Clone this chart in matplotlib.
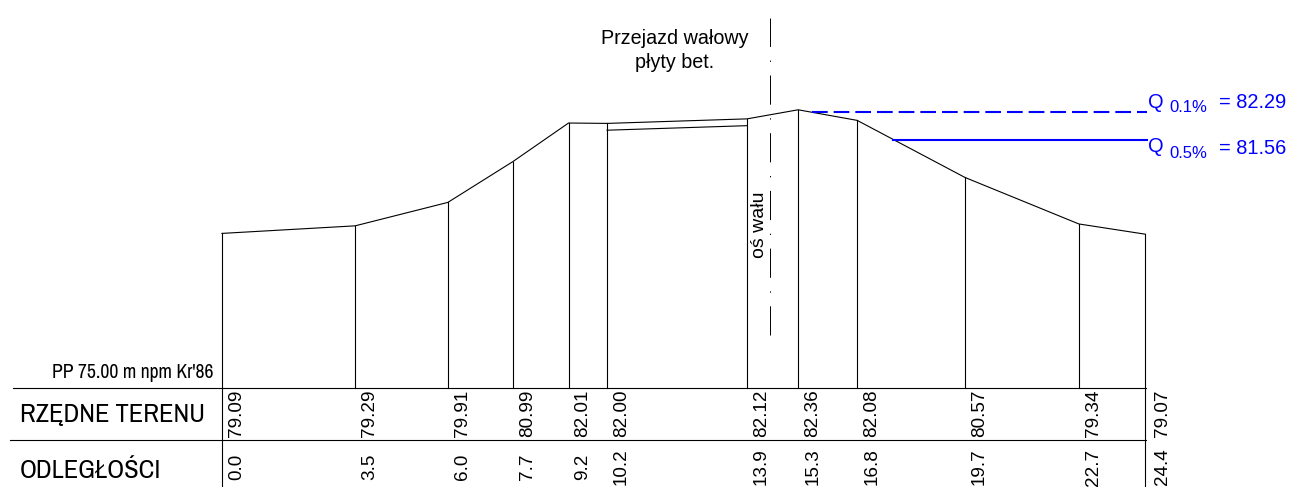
import matplotlib
matplotlib.use("Agg")
import matplotlib.pyplot as plt

plt.rcParams['font.family'] = ['Liberation Sans', 'DejaVu Sans']
plt.rcParams['lines.scale_dashes'] = False

# chainage of each surveyed point (m) and printed labels
stations = [0.0, 3.52, 5.97, 7.69, 9.16, 10.18, 13.88, 15.23, 16.79, 19.64, 22.65, 24.40]
elevations = [79.09, 79.29, 79.91, 80.99, 82.01, 82.00, 82.12, 82.36, 82.08, 80.57, 79.34, 79.07]
elev_labels = ["79.09", "79.29", "79.91", "80.99", "82.01", "82.00", "82.12", "82.36", "82.08", "80.57", "79.34", "79.07"]
dist_labels = ["0.0", "3.5", "6.0", "7.7", "9.2", "10.2", "13.9", "15.3", "16.8", "19.7", "22.7", "24.4"]
plate_underside = [81.82, 81.94]
plate_stations = [10.18, 13.88]
q01 = 82.29
q05 = 81.56
q01_start = 15.60
q05_start = 17.74
line_end = 24.44
axis_station = 14.49
datum = 75.0

W, H = 1294, 487
PX_X = 37.83
PX_Y = 37.8
X0, Y0 = 222.0, 388.0

fig = plt.figure(figsize=(W / 100, H / 100), dpi=100, facecolor='white')

ax = fig.add_axes([0, 0, 1, 1])
ax.set_xlim(-X0 / PX_X, (W - X0) / PX_X)
ax.set_ylim(datum - (H - Y0) / PX_Y, datum + Y0 / PX_Y)
ax.axis('off')

px = fig.add_axes([0, 0, 1, 1])
px.set_xlim(0, W)
px.set_ylim(H, 0)
px.axis('off')
px.patch.set_alpha(0)

LW = 0.8
BLUE = '#0000ff'
INK = '#000000'

# terrain profile and verticals
ax.plot(stations, elevations, color='black', lw=LW)
for i, (s, e) in enumerate(zip(stations, elevations)):
    bottom = ax.get_ylim()[0] if i in (0, len(stations) - 1) else datum
    ax.plot([s, s], [bottom, e], color='black', lw=LW)

# plate underside
ax.plot(plate_stations, plate_underside, color='black', lw=LW)

# water levels
ax.plot([q01_start, line_end], [q01, q01], color=BLUE, lw=1.5, dashes=(11.3, 4.3))
ax.plot([q05_start, line_end], [q05, q05], color=BLUE, lw=1.5)

# embankment axis
ax.plot([axis_station, axis_station], [datum + (388 - 335) / PX_Y, datum + (388 - 18) / PX_Y],
        color='black', lw=0.7, dashes=(21.0, 9.8, 0.95, 9.8))

# table rules
px.plot([13, 1146], [388, 388], color='black', lw=LW)
px.plot([10, 1146], [440, 440], color='black', lw=LW)

# table text
narrow = ['Archivo Narrow', 'Liberation Sans']
px.text(20, 415, "RZĘDNE TERENU", fontsize=19.1, family=narrow, va='center', ha='left', color=INK)
px.text(20, 471, "ODLEGŁOŚCI", fontsize=19.1, family=narrow, va='center', ha='left', color=INK)
px.text(214, 373, "PP 75.00 m npm Kr'86", fontsize=14.2, family=narrow, va='center', ha='right', color=INK)

for i, (s, a, b) in enumerate(zip(stations, elev_labels, dist_labels)):
    xp = X0 + s * PX_X + (14.5 if i < len(stations) - 1 else 17.5)
    px.text(xp, 437, a, rotation=90, fontsize=13.6, ha='center', va='bottom', color=INK)
    px.text(xp, 467, b, rotation=90, fontsize=13.6, ha='center', va='center', color=INK)

# annotations
px.text(675, 39, "Przejazd wałowy", fontsize=14.2, ha='center', va='center', color=INK)
px.text(675, 63, "płyty bet.", fontsize=14.2, ha='center', va='center', color=INK)
px.text(759, 225, "oś wału", fontsize=14, rotation=90, ha='center', va='center', color=INK)

for y, sub, val in [(102, "0.1%", "= 82.29"), (147, "0.5%", "= 81.56")]:
    px.text(1148, y, "Q", fontsize=14.4, color=BLUE, ha='left', va='center')
    px.text(1169, y + 6, sub, fontsize=12, color=BLUE, ha='left', va='center')
    px.text(1219, y + 1, val, fontsize=14.4, color=BLUE, ha='left', va='center')

fig.savefig('out.png', dpi=100, facecolor='white')
